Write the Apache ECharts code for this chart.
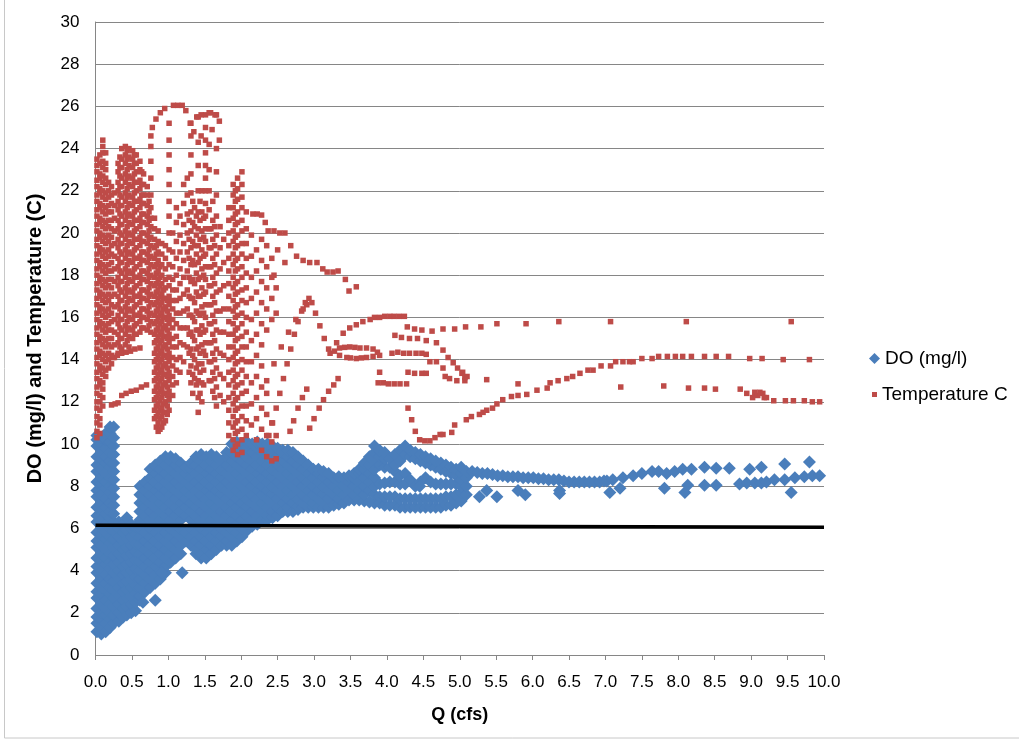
<!DOCTYPE html>
<html><head><meta charset="utf-8">
<script src="https://cdn.jsdelivr.net/npm/echarts@6/dist/echarts.min.js"></script>
<style>html,body{margin:0;padding:0;background:#fff;}#c{width:1019px;height:742px;}</style>
</head><body><div id="c"></div>
<script>
// ---------- DATA ----------
// DO (mg/l): dense cloud given as columns [Q, [DO values...]]
const doColumns = [
 [0.02,[1.1,1.5,1.8,2.2,2.7,3.0,3.4,3.9,4.2,4.6,5.1,5.4,5.8,6.3,6.6,7.0,7.5,7.8,8.2,8.7,9.0,9.4,9.9,10.2,10.4]],
 [0.08,[1.0,1.3,1.7,2.0,2.4,2.9,3.2,3.6,4.0,4.5,4.8,5.2,5.7,6.0,6.4,6.9,7.2,7.6,8.1,8.4,8.8,9.3,9.6,10.0,10.3]],
 [0.14,[1.1,1.5,1.9,2.2,2.6,3.1,3.4,3.8,4.3,4.6,5.0,5.5,5.8,6.2,6.7,7.0,7.4,7.9,8.2,8.6,9.1,9.4,9.8,10.2,10.5]],
 [0.20,[1.3,1.7,2.0,2.4,2.9,3.2,3.6,4.1,4.4,4.8,5.3,5.6,6.0,6.5,6.8,7.2,7.7,8.0,8.4,8.9,9.2,9.6,10.1,10.5,10.8]],
 [0.25,[1.5,1.9,2.3,2.7,3.1,3.5,3.9,4.3,4.7,5.1,5.5,5.9,6.3,6.7,7.1,7.5,7.9,8.3,8.7,9.1,9.5,9.9,10.3,10.8]],
 [0.32,[1.6,2.0,2.4,2.8,3.2,3.6,4.0,4.4,4.8,5.2,5.6,6.0,6.3]],
 [0.38,[1.8,2.2,2.6,3.0,3.4,3.8,4.2,4.6,5.0,5.4,5.8,6.2]],
 [0.43,[1.9,2.3,2.7,3.1,3.5,3.9,4.3,4.7,5.1,5.5,5.9,6.5]],
 [0.49,[2.0,2.4,2.8,3.2,3.6,4.0,4.4,4.8,5.2,5.6,6.0,6.2]],
 [0.55,[2.1,2.5,2.9,3.3,3.7,4.1,4.5,4.9,5.3,5.7,6.1]],
 [0.61,[2.6,2.8,3.2,3.6,4.0,4.4,4.8,5.2,5.6,6.0,6.4,6.8,7.2,7.6,8.0]],
 [0.65,[2.5]],
 [0.68,[3.0,3.4,3.8,4.2,4.6,5.0,5.4,5.8,6.2,6.6,7.0,7.4,7.8,8.2]],
 [0.75,[3.2,3.6,4.0,4.4,4.8,5.2,5.6,6.0,6.4,6.8,7.2,7.6,8.0,8.4,8.8]],
 [0.82,[2.6,3.4,3.8,4.2,4.6,5.0,5.4,5.8,6.2,6.6,7.0,7.4,7.8,8.2,8.6,9.0]],
 [0.89,[3.6,4.0,4.4,4.8,5.2,5.6,6.0,6.4,6.8,7.2,7.6,8.0,8.4,8.8,9.2]],
 [0.96,[3.9,4.2,4.6,5.0,5.4,5.8,6.2,6.6,7.0,7.4,7.8,8.2,8.6,9.0,9.4]],
 [1.03,[4.4,4.8,5.2,5.6,6.0,6.4,6.8,7.2,7.6,8.0,8.4,8.8,9.2,9.4]],
 [1.10,[4.6,5.0,5.4,5.8,6.2,6.6,7.0,7.4,7.8,8.2,8.6,9.0,9.3]],
 [1.17,[4.8,5.2,5.6,6.0,6.4,6.8,7.2,7.6,8.0,8.4,8.8,9.1]],
 [1.24,[5.4,5.8,6.6,7.0,7.4,7.8,8.2,8.6,8.9]],
 [1.31,[5.2,5.6,6.0,6.4,6.8,7.2,7.6,8.0,8.4,8.8,9.1]],
 [1.38,[4.8,5.0,5.4,5.8,6.2,6.6,7.0,7.4,7.8,8.2,8.6,9.0,9.4]],
 [1.45,[4.6,4.8,5.2,5.6,6.0,6.4,6.8,7.2,7.6,8.0,8.4,8.8,9.2,9.5]],
 [1.52,[4.6,5.0,5.4,5.8,6.2,6.6,7.0,7.4,7.8,8.2,8.6,9.0,9.4]],
 [1.59,[4.8,5.2,5.6,6.0,6.4,6.8,7.2,7.6,8.0,8.4,8.8,9.2,9.5]],
 [1.66,[5.0,5.4,5.8,6.2,6.6,7.0,7.4,7.8,8.2,8.6,9.0,9.4]],
 [1.73,[5.2,5.6,6.0,6.4,6.8,7.2,7.6,8.0,8.4,8.8,9.2]],
 [1.80,[5.2,5.4,5.8,6.2,6.6,7.0,7.4,7.8,8.2,8.6,9.0,9.4,9.6]],
 [1.87,[5.2,5.6,6.0,6.4,6.8,7.2,7.6,8.0,8.4,8.8,9.2,9.6,10.0]],
 [1.94,[5.4,5.8,6.2,6.6,7.0,7.4,7.8,8.2,8.6,9.0,9.4,9.8,10.1]],
 [2.01,[5.6,6.0,6.4,6.8,7.2,7.6,8.0,8.4,8.8,9.2,9.6,10.0]],
 [2.08,[5.9,6.2,6.6,7.0,7.4,7.8,8.2,8.6,9.0,9.4,9.8,10.1]],
 [2.15,[6.1,6.4,6.8,7.2,7.6,8.0,8.4,8.8,9.2,9.6,10.0]],
 [2.22,[6.2,6.6,7.0,7.4,7.8,8.2,8.6,9.0,9.4,9.8,10.1]],
 [2.29,[6.4,6.8,7.2,7.6,8.0,8.4,8.8,9.2,9.6,10.0]],
 [2.36,[6.4,6.6,7.0,7.4,7.8,8.2,8.6,9.0,9.4,9.8,10.0]],
 [2.43,[6.5,6.8,7.2,7.6,8.0,8.4,8.8,9.2,9.6,9.9]],
 [2.50,[6.6,7.0,7.4,7.8,8.2,8.6,9.0,9.4,9.8]],
 [2.57,[6.8,7.2,7.6,8.0,8.4,8.8,9.2,9.6,9.7]],
 [2.64,[6.8,7.0,7.4,7.8,8.2,8.6,9.0,9.4,9.7]],
 [2.71,[6.8,7.2,7.6,8.0,8.4,8.8,9.2,9.6]],
 [2.78,[6.9,7.0,7.4,7.8,8.2,8.6,9.0,9.4]],
 [2.85,[7.0,7.2,7.6,8.0,8.4,8.8,9.2]],
 [2.92,[7.0,7.4,7.8,8.2,8.6,9.0]],
 [2.99,[7.0,7.2,7.6,8.0,8.4,8.8]],
 [3.06,[7.0,7.4,7.8,8.2,8.6,8.8]],
 [3.13,[7.0,7.2,7.6,8.0,8.4,8.7]],
 [3.20,[7.0,7.4,7.8,8.2,8.6]],
 [3.27,[7.1,7.6,8.0,8.4]],
 [3.34,[7.15,7.4,7.8,8.2,8.45]],
 [3.41,[7.2,7.6,8.0,8.4]],
 [3.48,[7.35,7.8,8.2,8.5]],
 [3.55,[7.35,7.6,8.0,8.4,8.6]],
 [3.62,[7.35,7.8,8.2,8.6,8.8]],
 [3.69,[7.3,7.6,8.0,8.4,8.8,9.1]],
 [3.76,[7.25,7.8,8.2,8.6,9.0,9.4]],
 [3.83,[7.2,7.6,8.0,8.4,8.8,9.2,9.6,9.9]],
 [3.90,[7.2,7.5,8.1,9.0,9.4,9.7]],
 [3.97,[7.1,7.5,8.15,8.9,9.3,9.6]],
 [4.04,[7.1,7.5,8.2,8.9,9.3]],
 [4.11,[7.1,7.5,8.2,8.7,9.0,9.5]],
 [4.18,[7.0,7.4,8.1,8.5,9.2,9.7]],
 [4.25,[7.0,7.4,8.1,8.6,9.5,9.9]],
 [4.32,[7.0,7.4,8.3,9.4,9.7]],
 [4.39,[7.0,7.4,8.0,9.3,9.6]],
 [4.46,[7.0,7.4,8.2,9.2,9.5]],
 [4.53,[7.0,7.4,8.4,9.1,9.4]],
 [4.60,[7.0,7.4,8.2,9.0,9.3]],
 [4.67,[7.0,7.4,8.1,8.9,9.2]],
 [4.74,[7.0,7.4,8.1,8.8,9.1]],
 [4.81,[7.1,7.5,8.1,8.7,9.0]],
 [4.88,[7.1,7.5,8.1,8.6,8.9]],
 [4.95,[7.2,7.6,8.1,8.5,8.8]],
 [5.02,[7.3,7.7,8.0,8.3,8.6,8.9]],
 [5.09,[7.6,8.0,8.4,8.7]]
];
// DO (mg/l): sparse points, [Q, DO]
const doPoints = [
 [0.91,3.9],[1.19,3.9],[4.45,8.0],
 [5.17,8.7],[5.24,8.65],[5.31,8.6],[5.38,8.6],[5.45,8.55],[5.52,8.5],[5.59,8.5],[5.66,8.45],[5.73,8.45],
 [5.80,8.45],[5.87,8.4],[5.94,8.4],[6.01,8.4],[6.08,8.35],[6.15,8.35],[6.22,8.3],[6.29,8.3],[6.36,8.3],
 [6.43,8.25],[6.50,8.2],[6.57,8.2],[6.64,8.2],[6.71,8.2],[6.78,8.2],[6.85,8.2],[6.92,8.2],[6.98,8.25],
 [5.27,7.5],[5.37,7.8],[5.51,7.5],[5.80,7.8],[5.90,7.6],[6.37,7.8],[6.37,7.65],
 [7.02,8.25],[7.10,8.3],[7.24,8.4],[7.38,8.5],[7.50,8.6],[7.64,8.7],[7.73,8.7],[7.84,8.6],[7.95,8.7],
 [8.06,8.8],[8.18,8.8],[8.36,8.9],[8.52,8.85],[8.70,8.85],[8.98,8.8],[9.14,8.9],[9.46,9.05],[9.80,9.15],
 [7.06,7.7],[7.20,7.9],[7.81,7.9],[8.09,7.7],[8.13,8.05],[8.36,8.05],[8.52,8.05],[8.84,8.1],[8.94,8.15],
 [9.05,8.15],[9.14,8.15],[9.21,8.2],[9.32,8.3],[9.46,8.3],[9.55,7.7],[9.60,8.4],[9.73,8.45],[9.84,8.5],[9.94,8.5]
];
// Temperature C: dense cloud as columns [Q, [temperature values...]]
const tempColumns = [
 [0.02,[10.3,10.6,11.0,11.3,11.7,12.0,12.4,12.7,13.1,13.4,13.8,14.1,14.5,14.8,15.2,15.5,15.9,16.2,16.6,16.9,17.3,17.6,18.0,18.3,18.7,19.0,19.4,19.7,20.1,20.4,20.8,21.1,21.5,21.8,22.2,22.5,22.9,23.2,23.5]],
 [0.06,[10.5,10.9,11.2,11.6,12.0,12.3,12.8,13.0,13.5,13.7,14.2,14.4,14.9,15.1,15.6,15.8,16.3,16.5,17.0,17.2,17.7,17.9,18.4,18.6,19.1,19.3,19.8,20.0,20.5,20.7,21.2,21.4,21.9,22.1,22.6,22.8,23.3,23.7]],
 [0.10,[11.8,12.2,12.6,12.9,13.3,13.6,14.0,14.3,14.7,15.0,15.4,15.7,16.1,16.4,16.8,17.1,17.5,17.8,18.2,18.5,18.9,19.2,19.6,19.9,20.3,20.6,21.0,21.3,21.7,22.0,22.4,22.7,23.1,23.4,23.8,24.1,24.4]],
 [0.14,[13.2,13.5,13.9,14.2,14.6,14.9,15.3,15.6,16.0,16.3,16.7,17.0,17.4,17.7,18.1,18.4,18.8,19.1,19.5,19.8,20.2,20.5,20.9,21.2,21.6,21.9,22.3,22.6,23.0,23.3,23.8]],
 [0.18,[13.6,14.0,14.3,14.7,15.0,15.4,15.7,16.1,16.4,16.8,17.1,17.5,17.8,18.2,18.5,18.9,19.2,19.6,19.9,20.3,20.6,21.0,21.3,21.7,22.0,22.4]],
 [0.22,[13.8,14.2,14.6,15.0,15.4,15.8,16.2,16.6,17.0,17.4,17.8,18.2,18.6,19.0,19.4,19.8,20.2,20.6,21.0,21.4,21.8,22.2]],
 [0.26,[14.1,14.7,15.3,15.9,16.5,17.1,17.7,18.3,18.9,19.5,20.1,20.7,21.3,21.9]],
 [0.31,[14.3,14.8,15.2,15.7,16.1,16.6,17.0,17.5,17.9,18.4,18.8,19.3,19.7,20.2,20.6,21.1,21.5,22.0,22.4,22.9,23.3]],
 [0.335,[14.6,15.0,15.5,15.9,16.4,16.8,17.3,17.7,18.2,18.6,19.1,19.5,20.0,20.4,20.9,21.3,21.8,22.2,22.7,23.1,23.6]],
 [0.36,[14.5,15.0,15.4,15.9,16.3,16.8,17.2,17.7,18.1,18.6,19.0,19.5,19.9,20.4,20.8,21.3,21.7,22.2,22.6,23.1,23.5,24.0]],
 [0.41,[14.7,15.2,15.6,16.1,16.5,17.0,17.4,17.9,18.3,18.8,19.2,19.7,20.1,20.6,21.0,21.5,21.9,22.4,22.8,23.3,23.7,24.1]],
 [0.435,[14.9,15.4,15.8,16.3,16.7,17.2,17.6,18.1,18.5,19.0,19.4,19.9,20.3,20.8,21.2,21.7,22.1,22.6,23.0,23.5,23.9]],
 [0.46,[14.6,15.1,15.5,16.0,16.4,16.9,17.3,17.8,18.2,18.7,19.1,19.6,20.0,20.5,20.9,21.4,21.8,22.3,22.7,23.2,23.6,24.0]],
 [0.51,[15.0,15.4,15.9,16.3,16.8,17.2,17.7,18.1,18.6,19.0,19.5,19.9,20.4,20.8,21.3,21.7,22.2,22.6,23.1,23.5,23.9]],
 [0.535,[15.2,15.6,16.1,16.5,17.0,17.4,17.9,18.3,18.8,19.2,19.7,20.1,20.6,21.0,21.5,21.9,22.4,22.8,23.3,23.7]],
 [0.56,[15.2,15.7,16.1,16.6,17.0,17.5,17.9,18.4,18.8,19.3,19.7,20.2,20.6,21.1,21.5,22.0,22.4,22.9,23.3,23.7]],
 [0.61,[15.3,15.8,16.2,16.7,17.1,17.6,18.0,18.5,18.9,19.4,19.8,20.3,20.7,21.2,21.6,22.1,22.5,23.0,23.4]],
 [0.635,[15.5,16.0,16.4,16.9,17.3,17.8,18.2,18.7,19.1,19.6,20.0,20.5,20.9,21.4,21.8,22.3,22.9]],
 [0.66,[15.5,16.0,16.4,16.9,17.3,17.8,18.2,18.7,19.1,19.6,20.0,20.5,20.9,21.4,21.8,22.3,22.8]],
 [0.71,[15.4,15.9,16.3,16.8,17.2,17.7,18.1,18.6,19.0,19.5,19.9,20.4,20.8,21.3,21.8,22.2]],
 [0.735,[15.6,16.1,16.5,17.0,17.4,17.9,18.3,18.8,19.2,19.7,20.1,20.6,21.0,21.5]],
 [0.76,[15.3,15.8,16.2,16.7,17.1,17.6,18.0,18.5,18.9,19.4,19.8,20.3,20.7,21.2,21.8,22.6,23.4,24.1,24.6]],
 [0.81,[11.2,11.6,12.1,12.5,13.0,13.4,13.9,14.3,14.8,15.2,15.7,16.1,16.6,17.0,17.5,17.9,18.4,18.8,19.3,19.7,20.2,20.7]],
 [0.835,[10.8,11.3,11.8,12.2,12.7,13.1,13.6,14.0,14.5,14.9,15.4,15.8,16.3,16.7,17.2,17.6,18.1,18.5,19.0,19.4]],
 [0.86,[10.6,11.0,11.5,11.9,12.4,12.8,13.3,13.7,14.2,14.6,15.1,15.5,16.0,16.4,16.9,17.3,17.8,18.2,18.7,19.1,19.6,20.1]],
 [0.885,[10.7,11.2,11.6,12.1,12.5,13.0,13.4,13.9,14.3,14.8,15.2,15.7,16.1,16.6,17.0,17.5,17.9,18.4]],
 [0.91,[10.8,11.3,11.7,12.2,12.6,13.1,13.5,14.0,14.4,14.9,15.3,15.8,16.2,16.7,17.1,17.6,18.0,18.5,19.0,19.5]],
 [0.935,[11.0,11.5,11.9,12.4,12.8,13.3,13.7,14.2,14.6,15.1,15.5,16.0,16.4,16.9,17.3]],
 [0.96,[11.1,11.5,12.0,12.4,12.9,13.3,13.8,14.2,14.7,15.1,15.6,16.0,16.5,16.9,17.4,17.8,18.3,18.8,19.4]],
 [0.985,[11.4,11.8,12.3,12.7,13.2,13.6,14.1,14.5,15.0,15.4,15.9,16.3,16.8]],
 [1.01,[11.6,12.1,12.5,13.0,13.4,13.9,14.3,14.8,15.2,15.7,16.1,16.6,17.0,17.5,17.9,18.5,19.2,20.0,20.8,21.5,22.3,23.0,23.7,24.4,25.2]],
 [1.06,[12.3,12.8,13.2,13.7,14.1,14.6,15.0,15.5,15.9,16.4,16.8,17.3,17.8,18.4,19.1,20.0]],
 [1.11,[12.9,13.5,14.0,14.6,15.1,15.7,16.2,16.8,17.3,18.0,18.8,19.6,20.5,21.2]],
 [1.16,[13.4,14.1,14.8,15.5,16.2,16.9,17.6,18.3,19.1,19.9,20.8]],
 [1.21,[13.9,14.7,15.5,16.3,17.1,17.9,18.7,19.5,20.4,21.4,22.3]],
 [1.26,[14.6,15.5,16.4,17.3,18.2,19.1,20.0,20.9,21.8,22.6]],
 [1.285,[13.4,14.3,15.2,16.1,17.0,17.9,18.8,19.7,20.6]],
 [1.31,[12.9,13.7,14.5,15.3,16.1,16.9,17.7,18.5,19.3,20.1,21.0,21.9,22.8,23.7,24.6,25.2]],
 [1.335,[12.4,13.3,14.2,15.1,16.0,16.9,17.8,18.7,19.6,20.5,21.5]],
 [1.36,[13.1,14.0,14.9,15.8,16.7,17.6,18.5,19.4,20.3,21.2]],
 [1.385,[12.8,13.6,14.5,15.4,16.3,17.2,18.1,19.0,19.9,20.8]],
 [1.41,[11.5,12.2,13.0,13.8,14.6,15.4,16.2,17.0,17.8,18.6,19.4,20.2,21.0,22.0,23.2,24.3,25.5]],
 [1.435,[12.4,13.4,14.3,15.2,16.1,17.0,17.9,18.8,19.7,20.6,21.5]],
 [1.46,[12.0,12.9,13.8,14.7,15.6,16.5,17.4,18.3,19.2,20.1,21.0,22.0]],
 [1.485,[12.8,13.5,14.4,15.3,16.2,17.1,18.0,18.9,19.8,20.7]],
 [1.51,[14.2,14.8,15.4,16.0,16.6,17.2,17.8,18.4,19.0,19.6,20.2,20.8,21.4,22.0,22.6,23.2,23.8,24.4,25.0,25.6]],
 [1.56,[13.0,13.9,14.8,15.7,16.6,17.5,18.4,19.3,20.2,21.1,22.0,23.0,24.2,25.7]],
 [1.585,[13.0,13.9,14.8,15.7,16.6,17.5,18.4,19.3,20.2]],
 [1.61,[12.5,13.4,14.3,15.2,16.1,17.0,17.9,18.8,19.7,20.6,21.5]],
 [1.635,[12.2,13.1,14.0,14.9,15.8,16.7,17.6,18.5,19.4,20.3]],
 [1.66,[11.8,12.7,13.6,14.5,15.4,16.3,17.2,18.1,19.0,19.9,20.8,21.8,22.9,24.0,25.6]],
 [1.71,[12.3,13.3,14.3,15.3,16.3,17.3,18.3,19.3,20.3]],
 [1.76,[12.0,13.1,14.2,15.3,16.4,17.5,18.6,19.7]],
 [1.83,[10.4,11.0,11.6,12.2,12.8,13.4,14.0,14.6,15.2,15.8,16.4,17.0,17.6,18.2,18.8,19.4,20.0,20.6,21.2]],
 [1.89,[9.7,10.2,10.8,11.3,11.9,12.4,13.0,13.5,14.1,14.6,15.2,15.7,16.3,16.8,17.4,17.9,18.5,19.0,19.6,20.1,20.7,21.2,21.8,22.3]],
 [1.92,[9.9,10.5,11.0,11.6,12.1,12.7,13.2,13.8,14.3,14.9,15.4,16.0,16.5,17.1,17.6,18.2,18.7,19.3,19.8,20.4,20.9,21.5,22.0]],
 [1.95,[9.5,10.0,10.6,11.1,11.7,12.2,12.8,13.3,13.9,14.4,15.0,15.5,16.1,16.6,17.2,17.7,18.3,18.8,19.4,19.9,20.5,21.0,21.6,22.1,22.6]],
 [2.01,[9.6,10.2,10.7,11.3,11.8,12.4,12.9,13.5,14.0,14.6,15.1,15.7,16.2,16.8,17.3,17.9,18.4,19.0,19.5,20.1,20.6,21.2,21.7,22.3,22.9]],
 [2.07,[10.4,11.1,11.8,12.5,13.2,13.9,14.6,15.3,16.0,16.7,17.4,18.1,18.8,19.5,20.2,21.0]],
 [2.14,[10.9,11.9,12.9,13.9,14.9,15.9,16.9,17.9,18.9,19.9]],
 [2.21,[10.2,11.2,12.2,13.2,14.2,15.2,16.2,17.2,18.2,19.2]],
 [2.28,[9.7,10.7,11.7,12.7,13.7,14.7,15.7,16.7,17.7,18.7,19.7]],
 [2.35,[9.4,10.4,11.4,12.4,15.4,16.4,17.4,18.4,19.4]],
 [2.42,[9.2,10.1,11.0,15.9,16.9,17.9,18.8]],
 [2.48,[9.3,10.4,16.2,17.4]]
];
// Temperature C: sparse points and traces, [Q, temperature]
const tempPoints = [
 [0.24,14.1],[0.30,14.2],[0.36,14.3],[0.42,14.35],[0.48,14.4],[0.54,14.5],[0.61,14.55],
 [0.22,11.85],[0.27,11.9],[0.31,11.95],[0.36,12.3],[0.42,12.4],[0.49,12.5],[0.56,12.55],[0.63,12.7],[0.70,12.8],
 [0.78,25.0],[0.83,25.4],[0.89,25.7],[0.95,25.9],[1.07,26.05],[1.13,26.05],[1.19,26.05],[1.24,25.8],[1.30,25.2],
 [1.39,25.5],[1.45,25.6],[1.58,25.7],[1.64,25.6],[1.70,25.3],[1.35,24.8],[1.60,24.9],[1.70,24.4],[1.45,24.6],
 [2.16,20.9],[2.22,20.9],[2.28,20.85],[2.33,20.5],[2.37,20.1],[2.45,20.1],[2.53,20.0],[2.60,20.0],[2.68,19.4],
 [2.76,18.9],[2.85,18.7],[2.94,18.6],[3.04,18.6],[3.12,18.3],[3.18,18.15],[3.26,18.15],[3.33,18.2],[3.43,17.8],
 [3.48,17.25],[3.58,17.45],[2.50,19.2],[2.60,18.6],[2.45,18.0],
 [2.38,10.4],[2.43,11.0],[2.48,11.7],[2.53,12.4],[2.58,13.1],[2.63,13.8],[2.68,14.5],[2.73,15.2],[2.78,15.8],
 [2.83,16.3],[2.88,16.7],[2.93,16.9],[2.97,16.7],[3.02,16.2],[3.08,15.6],[3.14,15.0],[3.20,14.5],
 [2.35,13.0],[2.45,13.8],[2.55,14.6],[2.65,15.3],[2.75,15.9],[2.85,16.4],[2.90,16.6],
 [2.67,10.6],[2.72,11.1],[2.78,11.7],[2.84,12.2],[2.90,12.6],
 [2.94,10.75],[3.00,11.2],[3.07,11.7],[3.13,12.1],[3.20,12.5],[3.27,12.8],[3.33,13.1],
 [3.22,14.3],[3.31,14.8],[3.40,15.25],[3.49,15.5],[3.58,15.65],[3.67,15.8],[3.77,15.9],[3.83,16.0],[3.90,16.0],
 [3.97,16.05],[4.04,16.05],[4.10,16.05],[4.17,16.05],[4.24,16.05],
 [3.35,14.55],[3.42,14.58],[3.49,14.6],[3.56,14.58],[3.63,14.55],[3.72,14.55],[3.81,14.5],[3.87,14.35],[3.90,14.2],
 [3.81,14.15],[3.72,14.1],[3.65,14.08],[3.58,14.05],[3.50,14.08],[3.45,14.1],[3.35,14.2],[3.28,14.4],
 [4.07,14.3],[4.15,14.35],[4.23,14.3],[4.31,14.3],[4.40,14.3],[4.48,14.3],[4.54,14.25],
 [3.88,12.9],[3.95,12.9],[4.02,12.85],[4.10,12.85],[4.18,12.85],[4.27,12.85],[3.90,13.4],
 [4.29,13.4],[4.38,13.35],[4.48,13.35],[4.54,13.35],
 [4.59,13.9],[4.68,13.9],[4.77,13.6],[4.80,13.2],[4.86,13.1],[4.96,13.0],[5.03,13.35],
 [4.11,15.15],[4.20,15.05],[4.31,15.0],[4.42,15.0],[4.54,14.9],[4.68,14.8],[4.77,14.45],[4.84,14.1],[4.91,13.85],
 [4.97,13.6],[5.04,13.4],[5.07,13.15],[5.07,13.0],[5.10,13.2],
 [4.28,15.55],[4.38,15.45],[4.48,15.4],[4.62,15.35],[4.77,15.45],[4.93,15.45],[5.08,15.55],[5.29,15.55],
 [5.51,15.7],[5.91,15.7],[6.36,15.8],[5.37,13.05],[5.80,12.85],
 [4.29,11.7],[4.34,11.15],[4.39,10.6],[4.45,10.2],[4.52,10.15],[4.59,10.15],[4.66,10.3],[4.73,10.45],[4.77,10.45],
 [4.89,10.55],[4.93,10.9],[5.09,11.15],[5.16,11.3],[5.27,11.4],[5.32,11.5],[5.37,11.6],[5.45,11.7],[5.51,11.9],
 [5.59,12.1],[5.71,12.25],[5.80,12.3],[5.92,12.35],[6.06,12.55],[6.20,12.65],[6.24,12.9],[6.35,13.0],[6.47,13.1],
 [6.55,13.2],[6.65,13.35],[6.76,13.5],[6.83,13.5],[6.94,13.7],[7.07,13.7],[7.14,13.9],[7.24,13.9],[7.33,13.9],
 [7.38,13.9],[7.50,14.05],[7.64,14.05],[7.73,14.15],[7.85,14.15],[7.96,14.15],[8.06,14.15],[8.18,14.15],
 [8.36,14.15],[8.52,14.15],[8.69,14.15],[8.98,14.05],[9.15,14.05],[9.44,14.0],[9.80,14.0],
 [7.07,15.8],[8.11,15.8],[9.55,15.8],
 [7.21,12.7],[7.80,12.75],[8.14,12.65],[8.36,12.65],[8.51,12.6],[8.85,12.6],[8.94,12.4],[9.02,12.2],[9.05,12.45],
 [9.09,12.3],[9.12,12.45],[9.16,12.4],[9.18,12.2],[9.21,12.2],[9.31,12.05],[9.47,12.05],[9.58,12.05],[9.73,12.05],
 [9.84,12.0],[9.94,12.0]
];
// DO standard line (black)
const doStandard = [[0, 6.15], [10, 6.05]];
const seriesNames = ['DO (mg/l)', 'Temperature C'];

// ---------- CHART ----------
function flatten(cols) { const out = []; cols.forEach(c => c[1].forEach(y => out.push([c[0], y]))); return out; }
const doData = flatten(doColumns).concat(doPoints);
const tempData = flatten(tempColumns).concat(tempPoints);

const font = "'Liberation Sans', Arial, sans-serif";
const chart = echarts.init(document.getElementById('c'), null, { renderer: 'canvas' });
chart.setOption({
  animation: false,
  backgroundColor: '#fff',
  graphic: [{ type: 'rect', shape: { x: 4.5, y: -2, width: 1030, height: 740 }, style: { fill: 'none', stroke: '#c8c8c8', lineWidth: 1 }, silent: true }],
  grid: { left: 95.5, right: 195, top: 22, bottom: 87 },
  legend: [
    { data: [{ name: seriesNames[0], icon: 'diamond' }], orient: 'vertical', left: 864, top: 344, itemWidth: 11, itemHeight: 11, itemGap: 5,
      textStyle: { fontSize: 19, color: '#000', fontFamily: font } },
    { data: [{ name: seriesNames[1], icon: 'rect' }], orient: 'vertical', left: 867, top: 380, itemWidth: 5, itemHeight: 5, itemGap: 5,
      textStyle: { fontSize: 19, color: '#000', fontFamily: font } }
  ],
  xAxis: {
    type: 'value', min: 0, max: 10, interval: 0.5,
    axisLine: { lineStyle: { color: '#868686' } },
    axisTick: { length: 5, lineStyle: { color: '#868686' } },
    splitLine: { show: false },
    axisLabel: { formatter: v => v.toFixed(1), color: '#000', fontSize: 17, margin: 19, fontFamily: font },
    name: 'Q (cfs)', nameLocation: 'middle', nameGap: 51,
    nameTextStyle: { fontWeight: 'bold', fontSize: 18, color: '#000', fontFamily: font }
  },
  yAxis: {
    type: 'value', min: 0, max: 30, interval: 2,
    axisLine: { show: true, lineStyle: { color: '#868686' } },
    axisTick: { show: false },
    splitLine: { lineStyle: { color: '#868686' } },
    axisLabel: { color: '#000', fontSize: 17, margin: 16, fontFamily: font },
    name: 'DO (mg/l) and Temperature (C)', nameLocation: 'middle', nameGap: 50, nameRotate: 90,
    nameTextStyle: { fontWeight: 'bold', fontSize: 20, color: '#000', fontFamily: font }
  },
  series: [
    { name: seriesNames[0], type: 'scatter', data: doData, symbol: 'diamond', symbolSize: 13,
      itemStyle: { color: '#4A7EBB', opacity: 1 }, z: 2, silent: true },
    { name: seriesNames[1], type: 'scatter', data: tempData, symbol: 'rect', symbolSize: 5.5,
      itemStyle: { color: '#BE4B48', opacity: 1 }, z: 3, silent: true },
    { name: 'standard', type: 'line', data: doStandard, symbol: 'none', lineStyle: { color: '#000', width: 3.5 }, z: 4, silent: true }
  ]
});
</script></body></html>
